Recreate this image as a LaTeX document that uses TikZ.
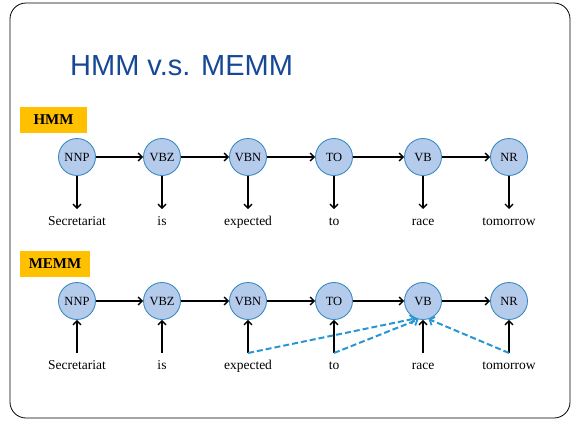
\documentclass[tikz,border=0pt]{standalone}
\usepackage{fontspec}
\setmainfont{Liberation Serif}
\newfontfamily\titlefont{Liberation Sans}
\usetikzlibrary{arrows.meta}
\definecolor{titleblue}{RGB}{22,72,150}
\definecolor{tagorange}{RGB}{255,192,0}
\definecolor{statefill}{RGB}{180,203,235}
\definecolor{statedraw}{RGB}{60,140,195}
\definecolor{dashblue}{RGB}{40,150,210}
\tikzset{
  state/.style={circle, minimum size=37pt, inner sep=0pt, fill=statefill, draw=statedraw, line width=0.9pt, font=\fontsize{12.5}{14}\selectfont},
  word/.style={anchor=base, inner sep=0pt, text height=9.5pt, text depth=3pt, outer sep=6.5pt, font=\fontsize{13.5}{16}\selectfont},
  tagbox/.style={fill=tagorange, minimum width=67pt, minimum height=26pt, inner sep=0pt, font=\bfseries\fontsize{15}{18}\selectfont},
  arr/.style={line width=1.3pt, -{Straight Barb[length=4pt,width=8pt,line width=1.3pt]}},
  dasharr/.style={dashblue, line width=2pt, dash pattern=on 6pt off 3pt, -{Straight Barb[length=4pt,width=9pt,line width=1.8pt]}}
}
\begin{document}
\begin{tikzpicture}[x=1pt,y=-1pt]
\useasboundingbox (0,0) rectangle (575,421);
% slide frame and title
\draw[rounded corners=16pt, line width=0.8pt] (10,3) rectangle (570,418);
\node[anchor=base west, inner sep=0pt, text=titleblue, font=\titlefont\fontsize{29}{35}\selectfont] (title) at (70,75.5) {HMM v.s. MEMM};
% section tags
\node[tagbox] (hmmtag) at (53.5,120) {HMM};
\node[tagbox, minimum width=70pt] (memmtag) at (55,263.5) {MEMM};
% HMM: states emit words
\foreach \n/\t/\x/\w in {a/NNP/77/Secretariat, b/VBZ/162/is, c/VBN/248/expected, d/TO/334/to, e/VB/423/race, f/NR/509/tomorrow}{
  \node[state] (h\n) at (\x,157) {\t};
  \node[word] (hw\n) at (\x,225) {\w};
  \draw[arr] (h\n) -- (hw\n.north);
}
% MEMM: words condition states
\foreach \n/\t/\x/\w in {a/NNP/77/Secretariat, b/VBZ/162/is, c/VBN/248/expected, d/TO/334/to, e/VB/423/race, f/NR/509/tomorrow}{
  \node[state] (m\n) at (\x,301) {\t};
  \node[word] (mw\n) at (\x,369) {\w};
  \draw[arr] (mw\n.north) -- (m\n);
}
% transitions
\foreach \p/\q in {a/b, b/c, c/d, d/e, e/f}{
  \draw[arr] (h\p) -- (h\q);
  \draw[arr] (m\p) -- (m\q);
}
% extra context features feeding VB
\draw[dasharr] (mwc.north) -- (me.247);
\draw[dasharr] (mwd.north) -- (me.256);
\draw[dasharr] (mwf.north) -- (me.287);
\end{tikzpicture}
\end{document}
